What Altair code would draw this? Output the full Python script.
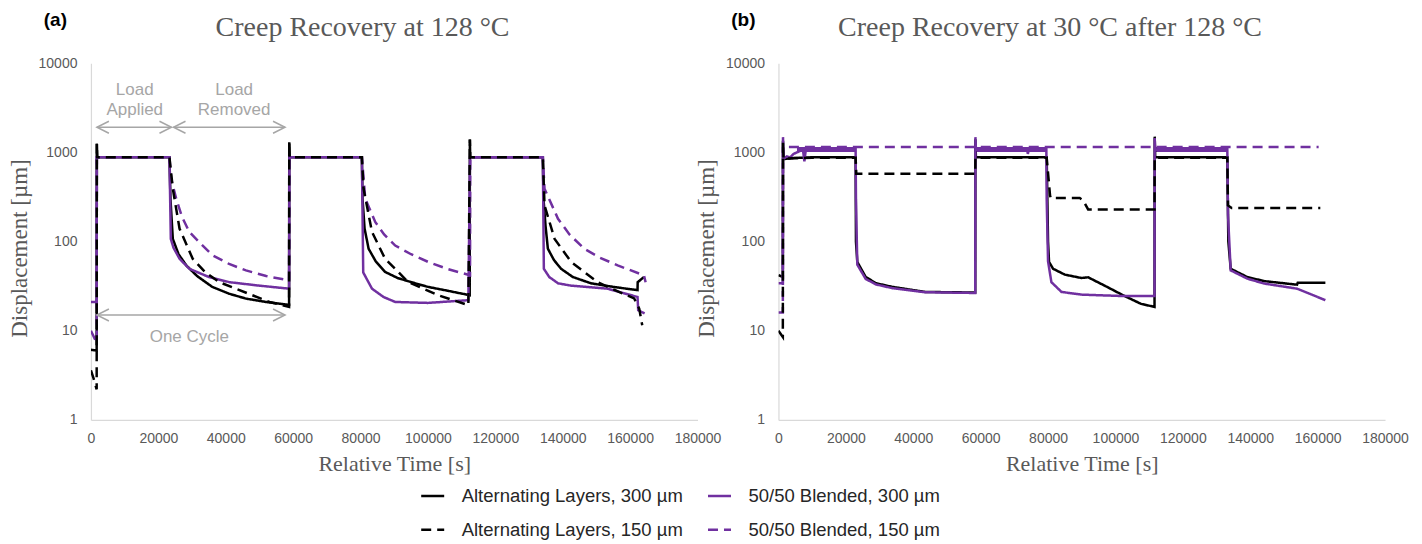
import altair as alt
import pandas as pd

SERIES = ["Alternating Layers, 300 µm", "50/50 Blended, 300 µm",
          "Alternating Layers, 150 µm", "50/50 Blended, 150 µm"]
COLORS = ["#000000", "#7030A0", "#000000", "#7030A0"]
DASHES = [[1, 0], [1, 0], [10, 6], [10, 6]]
DRAW_ORDER = [0, 1, 3, 2]

TITLES = ["Creep Recovery at 128 °C", "Creep Recovery at 30 °C after 128 °C"]
TITLE_X = [80600, 80600]
TITLE_Y = [20000, 20000]
PANEL_LABELS = ["(a)", "(b)"]
PANEL_LABEL_X = [-14000, -14000]
PANEL_LABEL_Y = [30700, 30700]

X_TICKS = [0, 20000, 40000, 60000, 80000, 100000, 120000, 140000, 160000, 180000]
Y_TICKS = [1, 10, 100, 1000, 10000]

# ---- panel (a): creep recovery at 128 °C  (time [s], displacement [µm])
A_ALT300 = [(0, 6.1), (1700, 6.0), (1750, 1250), (1850, 880), (23300, 880), (23600, 300),
            (24300, 107), (26000, 72), (28300, 54), (31500, 41), (36000, 31), (41000, 26),
            (46000, 22.9), (52000, 21), (58800, 19.5), (58850, 1300), (58950, 880),
            (80400, 880), (80600, 300), (81200, 140), (82400, 83), (84500, 60), (87300, 45.6),
            (91000, 39), (95100, 35), (100000, 31), (106000, 28), (112400, 25),
            (112450, 1390), (112550, 880), (134100, 880), (134300, 300), (134900, 150),
            (135600, 83), (137400, 62), (139500, 49.5), (143000, 40), (148400, 34),
            (155000, 31), (162200, 28.5), (162250, 35), (164100, 40)]
A_ALT150 = [(0, 3.6), (800, 2.9), (1700, 2.2), (1750, 1250), (1850, 880), (23300, 880),
            (24300, 390), (26300, 139), (30200, 64), (34000, 45), (38100, 35), (47900, 25),
            (53000, 21), (58800, 18.5), (58850, 1300), (58950, 880), (80400, 880),
            (80900, 390), (83400, 128), (87300, 64), (94200, 35), (103100, 25), (112000, 19.3),
            (112450, 1390), (112550, 880), (134100, 880), (134600, 254), (137600, 107),
            (142500, 59), (150400, 35), (156000, 28), (161200, 23), (162700, 17.7),
            (163600, 11.5)]
A_B300 = [(0, 21), (1700, 21), (1750, 880), (23300, 880), (23700, 107), (24500, 85),
          (26300, 64), (29200, 49.5), (35000, 40), (41100, 35), (50000, 32), (58800, 29.6),
          (58900, 880), (80400, 880), (80800, 45), (83400, 29.6), (86800, 23.9), (90300, 21),
          (100000, 20.5), (112000, 22), (112500, 880), (134100, 880), (134400, 49.5),
          (136000, 40), (138600, 34), (142500, 32), (153300, 29.6), (162200, 23.9),
          (162400, 17), (164300, 15.6)]
A_B150 = [(0, 10), (1700, 7.3), (1750, 880), (23300, 880), (23800, 506), (25300, 302),
          (27000, 190), (29200, 128), (32500, 95), (36100, 70), (41000, 56), (46000, 47.5),
          (52000, 41), (58800, 36.7), (58900, 880), (80400, 880), (81400, 302), (84400, 165),
          (87000, 120), (90300, 90), (95000, 72), (100100, 59), (106000, 49), (112500, 41.8),
          (112550, 880), (134100, 880), (134600, 390), (138600, 180), (142000, 120),
          (146400, 83), (151000, 66), (156300, 54), (164100, 41.8), (164600, 35)]

# ---- panel (b): creep recovery at 30 °C after 128 °C
B_ALT300 = [(0, 42), (1300, 40), (1350, 1350), (1500, 840), (4000, 860), (10000, 880),
            (22900, 880), (23000, 100), (23400, 59), (25900, 40), (29000, 34), (33800, 31),
            (43600, 27.2), (58400, 26.8), (58450, 1400), (58600, 880), (79600, 880),
            (80000, 100), (80300, 59), (81500, 49.5), (85000, 42.5), (89900, 39),
            (91900, 39.7), (96800, 32), (102700, 24.5), (107600, 20), (111600, 18.5),
            (111650, 1500), (111800, 880), (133200, 880), (133500, 100), (134200, 49.5),
            (139100, 40), (144100, 36), (153900, 32.8), (154100, 34.5), (162300, 34.5)]
B_ALT150 = [(0, 10), (1300, 8.5), (1350, 1300), (1500, 840), (4000, 860), (10000, 870),
            (22900, 870), (23100, 575), (58400, 575), (58450, 870), (79600, 870),
            (80600, 327), (80800, 307), (89400, 307), (90400, 290), (91900, 229),
            (111600, 229), (111650, 870), (133200, 870), (133400, 254), (134500, 238),
            (160800, 238)]
B_B300 = [(0, 34), (1300, 34), (1350, 1480), (1500, 850), (2500, 900), (3500, 880),
          (4500, 960), (5500, 1000), (6500, 1040), (7300, 1050), (7700, 790), (8100, 1060),
          (22900, 1080), (23000, 300), (23400, 55), (25900, 38), (29000, 33), (33800, 30),
          (43600, 27), (58400, 26.5), (58450, 1480), (58600, 1070), (73800, 1070),
          (74000, 960), (74300, 1070), (79500, 1080), (79600, 300), (80000, 60), (81000, 35),
          (84000, 27.2), (89900, 25.4), (101700, 24.5), (111600, 24.5), (111650, 1450),
          (111800, 1070), (133200, 1080), (133400, 200), (134200, 47.5), (139100, 38.4),
          (144100, 33.8), (153900, 29.6), (162300, 22)]
B_B150 = [(0, 16), (1300, 16), (1350, 1150), (160300, 1150)]

# noisy band of the 50/50 Blended, 300 µm plateaus in panel (b)
BAND_T1 = [5500, 58600, 111800]
BAND_T2 = [22900, 79500, 133200]
BAND_LO = [1010, 1010, 1010]
BAND_HI = [1150, 1150, 1150]

PANEL_DATA = [
    [A_ALT300, A_B300, A_ALT150, A_B150],
    [B_ALT300, B_B300, B_ALT150, B_B150],
]

# ---- annotations of panel (a)
ARROW_X1 = [1770, 24500, 1770]
ARROW_X2 = [23900, 57600, 57600]
ARROW_Y = [1910, 1910, 15.0]
ANN_TEXT = ["Load", "Applied", "Load", "Removed", "One Cycle"]
ANN_X = [13000, 13000, 42500, 42500, 29200]
ANN_Y = [4960, 2960, 4960, 2960, 8.5]

GRAY_TXT = "#595959"
ANN_GRAY = "#a6a6a6"
PURPLE = "#7030A0"
SERIF = "Liberation Serif"
SANS = "Liberation Sans"

rows = []
for p, panel in enumerate(PANEL_DATA):
    for s, pts in enumerate(panel):
        for i, (t, v) in enumerate(pts):
            rows.append({"panel": p, "series": SERIES[s], "i": i, "t": t, "v": v})
df = pd.DataFrame(rows)

arrows = pd.DataFrame({"x1": ARROW_X1, "x2": ARROW_X2, "y": ARROW_Y})
ann = pd.DataFrame({"x": ANN_X, "y": ANN_Y, "text": ANN_TEXT})
band = pd.DataFrame({"x1": BAND_T1, "x2": BAND_T2, "lo": BAND_LO, "hi": BAND_HI})

xscale = alt.Scale(domain=[0, 180000], nice=False, zero=False)
yscale = alt.Scale(type="log", domain=[1, 10000], nice=False)
xaxis = alt.Axis(title="Relative Time [s]", values=X_TICKS, format="d", labelFlush=False,
                 labelOverlap=False)
yaxis = alt.Axis(title="Displacement [µm]", values=Y_TICKS, format="d")


def X(field):
    return alt.X(field, type="quantitative", scale=xscale, axis=xaxis)


def Y(field):
    return alt.Y(field, type="quantitative", scale=yscale, axis=yaxis)


legend = alt.Legend(title=None, orient="none", legendX=329, legendY=420, columns=2,
                    symbolType="stroke", symbolSize=529, symbolStrokeWidth=2.5,
                    labelFont=SANS, labelFontSize=18.5, labelColor="#262626",
                    labelLimit=400, labelOffset=16, columnPadding=19, rowPadding=11,
                    padding=0, direction="horizontal")


def panel_chart(p):
    base = alt.Chart(df).transform_filter(alt.datum.panel == p)
    layers = []
    if p == 1:
        layers.append(alt.Chart(band).mark_rect(color=PURPLE, opacity=1)
                      .encode(x=X("x1"), x2="x2", y=Y("lo"), y2="hi"))
    for s in DRAW_ORDER:
        layers.append(
            base.transform_filter(alt.datum.series == SERIES[s])
            .mark_line(strokeWidth=2.5, clip=True)
            .encode(
                x=X("t"), y=Y("v"),
                color=alt.Color("series:N", scale=alt.Scale(domain=SERIES, range=COLORS),
                                legend=legend),
                strokeDash=alt.StrokeDash("series:N",
                                          scale=alt.Scale(domain=SERIES, range=DASHES),
                                          legend=legend),
                order=alt.Order("i:Q"),
            )
        )
    if p == 0:
        layers.append(alt.Chart(arrows).mark_rule(color=ANN_GRAY, strokeWidth=1.5)
                      .encode(x=X("x1"), x2="x2", y=Y("y")))
        layers.append(alt.Chart(arrows).mark_point(shape="M2,-1L0,0L2,1", size=144,
                                                   filled=False, color=ANN_GRAY,
                                                   strokeWidth=1.5, opacity=1)
                      .encode(x=X("x1"), y=Y("y")))
        layers.append(alt.Chart(arrows).mark_point(shape="M-2,-1L0,0L-2,1", size=144,
                                                   filled=False, color=ANN_GRAY,
                                                   strokeWidth=1.5, opacity=1)
                      .encode(x=X("x2"), y=Y("y")))
        layers.append(alt.Chart(ann).mark_text(font=SANS, fontSize=17, color=ANN_GRAY)
                      .encode(x=X("x"), y=Y("y"), text="text:N"))
    lab = pd.DataFrame({"x": [PANEL_LABEL_X[p]], "y": [PANEL_LABEL_Y[p]],
                        "text": [PANEL_LABELS[p]]})
    layers.append(alt.Chart(lab).mark_text(font=SANS, fontSize=19, fontWeight="bold",
                                           align="left", color="#000000")
                  .encode(x=X("x"), y=Y("y"), text="text:N"))
    ttl = pd.DataFrame({"x": [TITLE_X[p]], "y": [TITLE_Y[p]], "text": [TITLES[p]]})
    layers.append(alt.Chart(ttl).mark_text(font=SERIF, fontSize=28, color=GRAY_TXT,
                                           baseline="alphabetic")
                  .encode(x=X("x"), y=Y("y"), text="text:N"))
    return alt.layer(*layers).properties(width=607, height=357)


chart = (
    alt.hconcat(panel_chart(0), panel_chart(1), spacing=81, bounds="flush")
    .resolve_scale(color="shared", strokeDash="shared")
    .properties(padding={"left": 0, "top": 2, "right": 5, "bottom": 0})
    .configure_view(stroke=None)
    .configure_axis(grid=False, ticks=False, domainColor="#d9d9d9", domainWidth=1.2,
                    labelFont=SANS, labelFontSize=14, labelColor=GRAY_TXT,
                    titleFont=SERIF, titleFontSize=22, titleFontWeight="normal",
                    titleColor=GRAY_TXT)
    .configure_axisY(labelPadding=14, titlePadding=7, titleFontSize=23, titleY=185)
    .configure_axisX(labelPadding=12, titlePadding=8)
)

chart.save("out.html", embed_options={"renderer": "svg", "actions": False})
